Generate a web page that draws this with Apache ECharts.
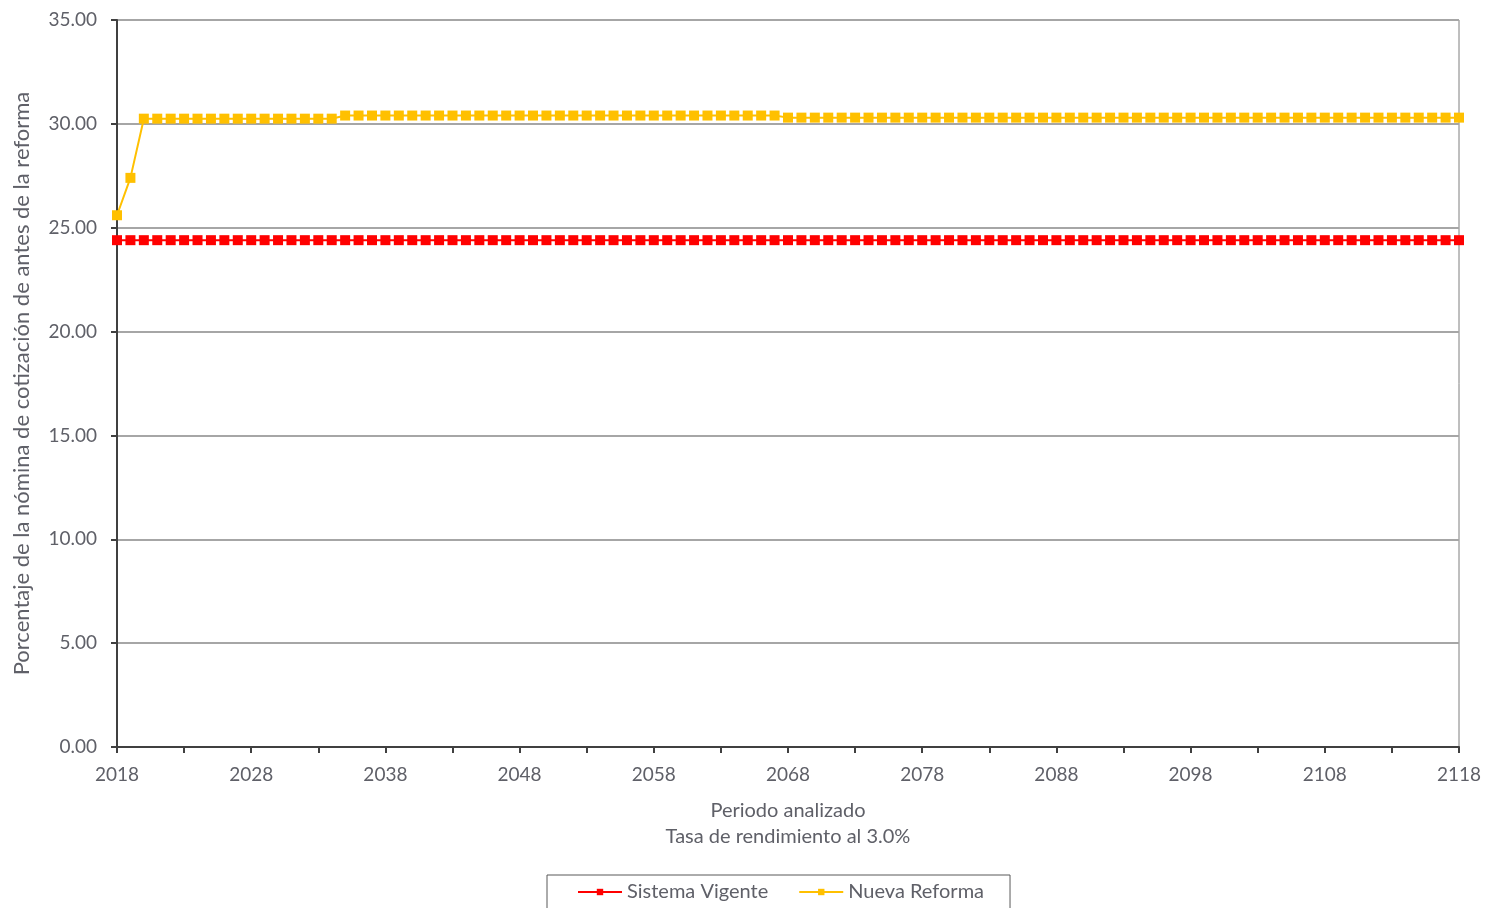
<!DOCTYPE html>
<html>
<head>
<meta charset="utf-8">
<script src="https://cdn.jsdelivr.net/npm/echarts@6/dist/echarts.min.js"></script>
<style>
  html, body { margin: 0; padding: 0; background: #fff; }
  #chart { width: 1486px; height: 908px; }
</style>
</head>
<body>
<div id="chart"></div>
<script>
// years 2018..2118
var firstYear = 2018
var lastYear = 2118
var years = []
for (var y = firstYear; y <= lastYear; y++) years.push(String(y))

var seriesNames = ['Sistema Vigente', 'Nueva Reforma']

// Sistema Vigente (constant ~24.4)
var sistemaVigente = [
  24.4, 24.4, 24.4, 24.4, 24.4, 24.4, 24.4, 24.4, 24.4, 24.4,
  24.4, 24.4, 24.4, 24.4, 24.4, 24.4, 24.4, 24.4, 24.4, 24.4,
  24.4, 24.4, 24.4, 24.4, 24.4, 24.4, 24.4, 24.4, 24.4, 24.4,
  24.4, 24.4, 24.4, 24.4, 24.4, 24.4, 24.4, 24.4, 24.4, 24.4,
  24.4, 24.4, 24.4, 24.4, 24.4, 24.4, 24.4, 24.4, 24.4, 24.4,
  24.4, 24.4, 24.4, 24.4, 24.4, 24.4, 24.4, 24.4, 24.4, 24.4,
  24.4, 24.4, 24.4, 24.4, 24.4, 24.4, 24.4, 24.4, 24.4, 24.4,
  24.4, 24.4, 24.4, 24.4, 24.4, 24.4, 24.4, 24.4, 24.4, 24.4,
  24.4, 24.4, 24.4, 24.4, 24.4, 24.4, 24.4, 24.4, 24.4, 24.4,
  24.4, 24.4, 24.4, 24.4, 24.4, 24.4, 24.4, 24.4, 24.4, 24.4,
  24.4
]

// Nueva Reforma
var nuevaReforma = [
  25.6, 27.4, 30.25, 30.25, 30.25, 30.25, 30.25, 30.25, 30.25, 30.25,   // 2018-2027
  30.25, 30.25, 30.25, 30.25, 30.25, 30.25, 30.25, 30.4, 30.4, 30.4,    // 2028-2037
  30.4, 30.4, 30.4, 30.4, 30.4, 30.4, 30.4, 30.4, 30.4, 30.4,          // 2038-2047
  30.4, 30.4, 30.4, 30.4, 30.4, 30.4, 30.4, 30.4, 30.4, 30.4,          // 2048-2057
  30.4, 30.4, 30.4, 30.4, 30.4, 30.4, 30.4, 30.4, 30.4, 30.4,          // 2058-2067
  30.3, 30.3, 30.3, 30.3, 30.3, 30.3, 30.3, 30.3, 30.3, 30.3,          // 2068-2077
  30.3, 30.3, 30.3, 30.3, 30.3, 30.3, 30.3, 30.3, 30.3, 30.3,          // 2078-2087
  30.3, 30.3, 30.3, 30.3, 30.3, 30.3, 30.3, 30.3, 30.3, 30.3,          // 2088-2097
  30.3, 30.3, 30.3, 30.3, 30.3, 30.3, 30.3, 30.3, 30.3, 30.3,          // 2098-2107
  30.3, 30.3, 30.3, 30.3, 30.3, 30.3, 30.3, 30.3, 30.3, 30.3,          // 2108-2117
  30.3                                                                  // 2118
]

var textColor = '#5f6068'
var font = 'Lato, "Open Sans", sans-serif'

var chart = echarts.init(document.getElementById('chart'))
var option = {
  animation: false,
  textStyle: { fontFamily: font },
  color: ['#ff0000', '#ffc000'],
  grid: { left: 117, right: 27, top: 20, bottom: 161, show: true, borderColor: '#7f7f7f', borderWidth: 1 },
  legend: {
    left: 547,
    top: 875,
    padding: [7, 26, 20, 30],
    borderColor: '#595959',
    borderWidth: 1,
    itemWidth: 44,
    itemHeight: 8,
    itemGap: 30,
    textStyle: { color: textColor, fontSize: 20, fontFamily: font },
    data: seriesNames
  },
  xAxis: {
    type: 'category',
    data: years,
    boundaryGap: false,
    name: 'Periodo analizado\nTasa de rendimiento al 3.0%',
    nameLocation: 'middle',
    nameGap: 51,
    nameTextStyle: { color: textColor, fontSize: 20, lineHeight: 26, verticalAlign: 'top' },
    axisLine: { lineStyle: { color: '#404040', width: 2 } },
    axisTick: { show: true, interval: 4, length: 6, lineStyle: { color: '#404040', width: 2 } },
    axisLabel: { interval: 9, color: textColor, fontSize: 19, margin: 18 },
    splitLine: { show: false }
  },
  yAxis: {
    type: 'value',
    min: 0,
    max: 35,
    interval: 5,
    name: 'Porcentaje de la nómina de cotización de antes de la reforma',
    nameLocation: 'middle',
    nameGap: 84,
    nameTextStyle: { color: textColor, fontSize: 22 },
    axisLine: { show: true, lineStyle: { color: '#404040', width: 2 } },
    axisTick: { show: true, length: 6, lineStyle: { color: '#404040', width: 2 } },
    axisLabel: { color: textColor, fontSize: 19, margin: 20, formatter: function (v) { return v.toFixed(2) } },
    splitLine: { lineStyle: { color: '#a6a6a6', width: 2 } }
  },
  series: [
    {
      name: seriesNames[0],
      type: 'line',
      data: sistemaVigente,
      symbol: 'rect',
      symbolSize: 10,
      showAllSymbol: true,
      lineStyle: { width: 2, color: '#ff0000' },
      itemStyle: { color: '#ff0000' }
    },
    {
      name: seriesNames[1],
      type: 'line',
      data: nuevaReforma,
      symbol: 'rect',
      symbolSize: 10,
      showAllSymbol: true,
      lineStyle: { width: 2, color: '#ffc000' },
      itemStyle: { color: '#ffc000' }
    }
  ]
}
chart.setOption(option)
window.onresize = function () { chart.resize() }
</script>
</body>
</html>
